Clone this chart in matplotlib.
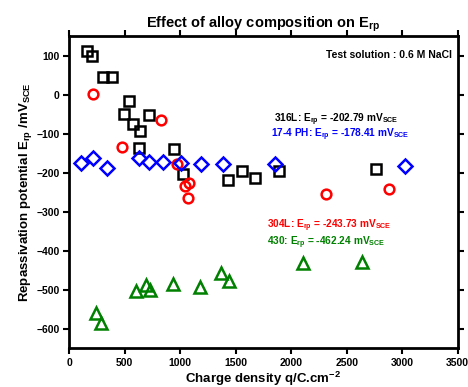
import matplotlib.pyplot as plt

plt.rcParams['font.family'] = 'Liberation Sans'
plt.rcParams['font.weight'] = 'bold'
plt.rcParams['mathtext.fontset'] = 'custom'
plt.rcParams['mathtext.rm'] = 'Liberation Sans:bold'
plt.rcParams['mathtext.it'] = 'Liberation Sans:bold'
plt.rcParams['mathtext.bf'] = 'Liberation Sans:bold'

# 316L
x_316 = [162, 207, 306, 385, 535, 496, 577, 637, 721, 625, 943, 1027, 1433, 1556, 1673, 1892, 2764]
y_316 = [112, 100, 46, 45, -17, -49, -75, -94, -52, -138, -139, -203, -220, -196, -213, -196, -190]
# 304L
x_304 = [216, 823, 475, 967, 1043, 1079, 1067, 2316, 2878]
y_304 = [2, -65, -135, -178, -233, -227, -265, -254, -242]
# 17-4 PH
x_174 = [103, 211, 342, 625, 715, 842, 1004, 1190, 1382, 1851, 3028]
y_174 = [-175, -163, -187, -163, -173, -174, -176, -178, -178, -179, -183]
# 430
x_430 = [241, 283, 598, 688, 727, 937, 1178, 1370, 1436, 2109, 2638]
y_430 = [-559, -586, -503, -489, -501, -485, -492, -456, -478, -431, -428]

fig = plt.figure(figsize=(4.68, 3.87), dpi=100)
ax = fig.add_axes([0.148, 0.1, 0.83, 0.807])

ms = 7
mew = 1.8
ax.plot(x_316, y_316, 's', ms=ms, mfc='none', mec='black', mew=mew)
ax.plot(x_304, y_304, 'o', ms=ms, mfc='none', mec='red', mew=mew)
ax.plot(x_174, y_174, 'D', ms=ms, mfc='none', mec='blue', mew=mew)
ax.plot(x_430, y_430, '^', ms=ms + 1, mfc='none', mec='green', mew=mew)

ax.set_xlim(0, 3500)
ax.set_ylim(-650, 150)
ax.set_xticks(range(0, 3501, 500))
ax.set_yticks(range(-600, 101, 100))
for s in ax.spines.values():
    s.set_linewidth(2)
ax.tick_params(axis='both', labelsize=7.5, width=1.5, length=4, pad=3)
ax.tick_params(top=True, right=True, direction='out')
for t in ax.get_xticklabels() + ax.get_yticklabels():
    t.set_fontweight('bold')

ax.set_title('Effect of alloy composition on E$_{rp}$', fontsize=10.5, fontweight='bold', pad=6)
ax.set_xlabel('Charge density q/C.cm$^{-2}$', fontsize=9.5, fontweight='bold', labelpad=1)
ax.set_ylabel('Repassivation potential E$_{rp}$ /mV$_{SCE}$', fontsize=9.5, fontweight='bold', labelpad=2)

ax.text(0.985, 0.955, 'Test solution : 0.6 M NaCl', transform=ax.transAxes,
        ha='right', va='top', fontsize=7.5, fontweight='bold')
ax.text(0.527, 0.725, '316L: E$_{rp}$ = -202.79 mV$_{SCE}$', transform=ax.transAxes,
        fontsize=7.3, fontweight='bold', color='black')
ax.text(0.52, 0.675, '17-4 PH: E$_{rp}$ = -178.41 mV$_{SCE}$', transform=ax.transAxes,
        fontsize=7.3, fontweight='bold', color='blue')
ax.text(0.51, 0.385, '304L: E$_{rp}$ = -243.73 mV$_{SCE}$', transform=ax.transAxes,
        fontsize=7.3, fontweight='bold', color='red')
ax.text(0.51, 0.33, '430: E$_{rp}$ = -462.24 mV$_{SCE}$', transform=ax.transAxes,
        fontsize=7.3, fontweight='bold', color='green')

plt.savefig('out.png', dpi=100)
plt.close(fig)
